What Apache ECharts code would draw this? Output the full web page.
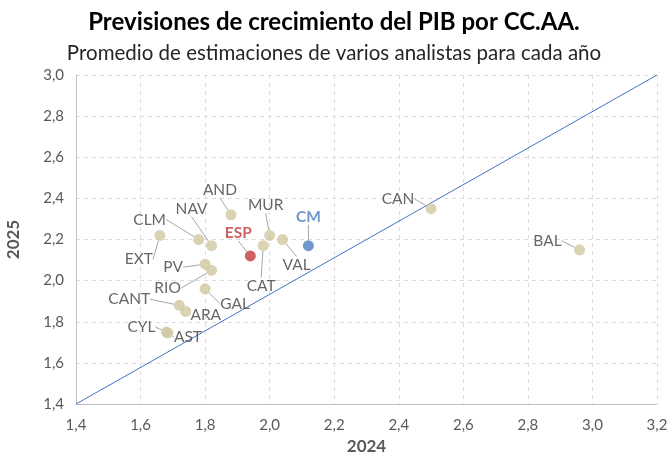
<!DOCTYPE html>
<html>
<head>
<meta charset="utf-8">
<script src="https://cdn.jsdelivr.net/npm/echarts@6/dist/echarts.min.js"></script>
<style>
  html, body { margin: 0; padding: 0; background: #fff; }
  #chart { width: 668px; height: 456px; }
</style>
</head>
<body>
<div id="chart"></div>
<script>
var regions = ['AND', 'NAV', 'CLM', 'EXT', 'MUR', 'CM', 'ESP', 'VAL', 'CAT', 'PV', 'RIO', 'GAL', 'CANT', 'ARA', 'CYL', 'AST', 'CAN', 'BAL'];
var growth2024 = [1.88, 1.82, 1.78, 1.66, 2.00, 2.12, 1.94, 2.04, 1.98, 1.80, 1.82, 1.80, 1.72, 1.74, 1.68, 1.685, 2.50, 2.96];
var growth2025 = [2.32, 2.17, 2.20, 2.22, 2.22, 2.17, 2.12, 2.20, 2.17, 2.08, 2.05, 1.96, 1.88, 1.85, 1.75, 1.745, 2.35, 2.15];
// label offsets (px) from each dot
var labelDx = [-11, -20, -49, -21, -4, 0, -12, 14, -2, -32, -44, 30, -50, 20, -25, 20, -33, -32];
var labelDy = [-25, -37, -20, 24, -30, -29, -23, 25, 40, 3, 18, 15, -6, 4, -5, 4, -10, -9];
var refLine = [[1.4, 1.4], [3.2, 3.0]];

var myChart = echarts.init(document.getElementById('chart'));

function fmt(v) { return v.toFixed(1).replace('.', ','); }

var points = regions.map(function (r, i) {
  var item = { name: r, value: [growth2024[i], growth2025[i]] };
  if (r === 'ESP') {
    item.itemStyle = { color: '#c0393b' };
    item.label = { color: '#c0393b', fontWeight: 'bold' };
  } else if (r === 'CM') {
    item.itemStyle = { color: '#4a7ebb' };
    item.label = { color: '#4a7ebb', fontWeight: 'bold' };
  }
  return item;
});

option = {
  animation: false,
  title: [{
    text: 'Previsiones de crecimiento del PIB por CC.AA.',
    left: 'center',
    top: 5,
    textStyle: { fontFamily: 'Lato', fontSize: 24, fontWeight: 'bold', color: '#000' }
  }, {
    text: 'Promedio de estimaciones de varios analistas para cada año',
    left: 'center',
    top: 38,
    textStyle: { fontFamily: 'Lato', fontSize: 20.5, fontWeight: 'normal', color: '#262626' }
  }],
  grid: { left: 76, right: 11, top: 75, bottom: 52, outerBoundsMode: 'none' },
  xAxis: {
    type: 'value', min: 1.4, max: 3.2, interval: 0.2,
    name: '2024', nameLocation: 'middle', nameGap: 32,
    nameTextStyle: { fontFamily: 'Lato', fontSize: 17, fontWeight: 'bold', color: '#595959' },
    axisLine: { lineStyle: { color: '#bfbfbf' } },
    axisTick: { show: false },
    axisLabel: { formatter: fmt, fontFamily: 'Lato', fontSize: 15, color: '#595959', margin: 14 },
    splitLine: { lineStyle: { color: '#dcdcdc', type: [4, 4] } }
  },
  yAxis: {
    type: 'value', min: 1.4, max: 3.0, interval: 0.2,
    name: '2025', nameLocation: 'middle', nameGap: 54, nameRotate: 90,
    nameTextStyle: { fontFamily: 'Lato', fontSize: 17, fontWeight: 'bold', color: '#595959' },
    axisLine: { show: true, lineStyle: { color: '#bfbfbf' } },
    axisTick: { show: false },
    axisLabel: { formatter: fmt, fontFamily: 'Lato', fontSize: 15, color: '#595959', margin: 12 },
    splitLine: { lineStyle: { color: '#dcdcdc', type: [4, 4] } }
  },
  series: [{
    type: 'line',
    data: refLine,
    symbol: 'none',
    silent: true,
    lineStyle: { color: '#4472c4', width: 1 },
    z: 1
  }, {
    type: 'scatter',
    data: points,
    symbolSize: 11,
    itemStyle: { color: '#cfc8a0' },
    label: {
      show: true,
      position: 'inside',
      formatter: '{b}',
      fontFamily: 'Lato',
      fontSize: 15.5,
      color: '#404040'
    },
    labelLine: { show: true, lineStyle: { color: '#a6a6a6', width: 1 } },
    labelLayout: function (p) {
      return { dx: labelDx[p.dataIndex], dy: labelDy[p.dataIndex] };
    },
    z: 3
  }]
};
myChart.setOption(option);
</script>
</body>
</html>
